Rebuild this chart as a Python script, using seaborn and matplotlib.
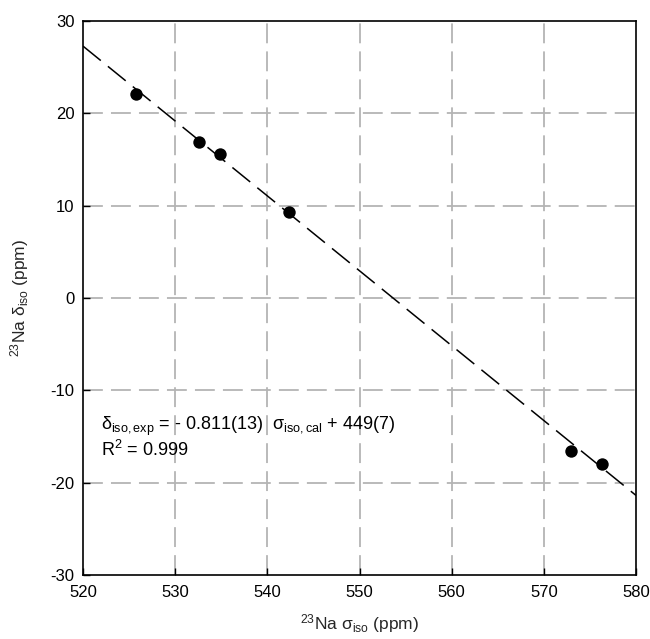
import matplotlib
matplotlib.use("Agg")
import matplotlib.pyplot as plt
import numpy as np
import pandas as pd
import seaborn as sns

# Calculated isotropic shielding vs. experimental isotropic shift for 23Na
sigma_iso_cal = [525.8, 532.6, 534.9, 542.3, 572.9, 576.3]
delta_iso_exp = [22.1, 16.9, 15.6, 9.3, -16.6, -18.0]

# Linear fit parameters
fit_slope = -0.811
fit_intercept = 449.0
fit_r2 = 0.999

x_ticks = [520, 530, 540, 550, 560, 570, 580]
y_ticks = [-30, -20, -10, 0, 10, 20, 30]

sns.set_theme(style="white")
plt.rcParams["font.family"] = ["Liberation Sans", "DejaVu Sans"]
plt.rcParams["mathtext.fontset"] = "custom"
plt.rcParams["mathtext.rm"] = "Liberation Sans"
plt.rcParams["mathtext.it"] = "Liberation Sans:italic"
plt.rcParams["mathtext.bf"] = "Liberation Sans:bold"
plt.rcParams["axes.unicode_minus"] = False

fig = plt.figure(figsize=(6.5, 6.39), dpi=100)
ax = fig.add_axes([83 / 650, 1 - 575 / 639, (636 - 83) / 650, (575 - 21) / 639])

df = pd.DataFrame({"sigma": sigma_iso_cal, "delta": delta_iso_exp})

# Grid
for xv in x_ticks[1:-1]:
    ax.axvline(xv, color="#b4b4b4", lw=1.3, dashes=(11, 4.5), zorder=0)
for yv in y_ticks[1:-1]:
    ax.axhline(yv, color="#b4b4b4", lw=1.3, dashes=(11, 4.5), zorder=0)

# Regression line
x_fit = np.array([x_ticks[0], x_ticks[-1]], dtype=float)
fit_df = pd.DataFrame({"sigma": x_fit, "delta": fit_slope * x_fit + fit_intercept})
sns.lineplot(data=fit_df, x="sigma", y="delta", ax=ax, color="black", lw=1.1,
             dashes=False, zorder=2).lines[-1].set_dashes((15, 6))

sns.scatterplot(data=df, x="sigma", y="delta", ax=ax, color="black", s=80,
                edgecolor="black", linewidth=0, zorder=3)

ax.set_xlim(520, 580)
ax.set_ylim(-30, 30)
ax.set_xticks(x_ticks)
ax.set_yticks(y_ticks)
ax.tick_params(direction="in", length=5, width=1, labelsize=12, colors="black",
               bottom=True, left=True)
ax.tick_params(axis="x", pad=7)
ax.tick_params(axis="y", pad=6)
for s in ax.spines.values():
    s.set_color("black")
    s.set_linewidth(1.2)

ax.set_xlabel(r"$^{23}$Na σ$_{\mathrm{iso}}$ (ppm)", fontsize=12.5, labelpad=9)
ax.set_ylabel(r"$^{23}$Na δ$_{\mathrm{iso}}$ (ppm)", fontsize=12.5, labelpad=14)

ax.text(522.0, -14.3,
        r"δ$_{\mathrm{iso,exp}}$ = - 0.811(13)  σ$_{\mathrm{iso,cal}}$ + 449(7)",
        fontsize=13, ha="left", va="baseline", color="black")
ax.text(522.0, -17.1, r"R$^{2}$ = " + f"{fit_r2:.3f}",
        fontsize=13, ha="left", va="baseline", color="black")

fig.savefig("out.png", dpi=100)
